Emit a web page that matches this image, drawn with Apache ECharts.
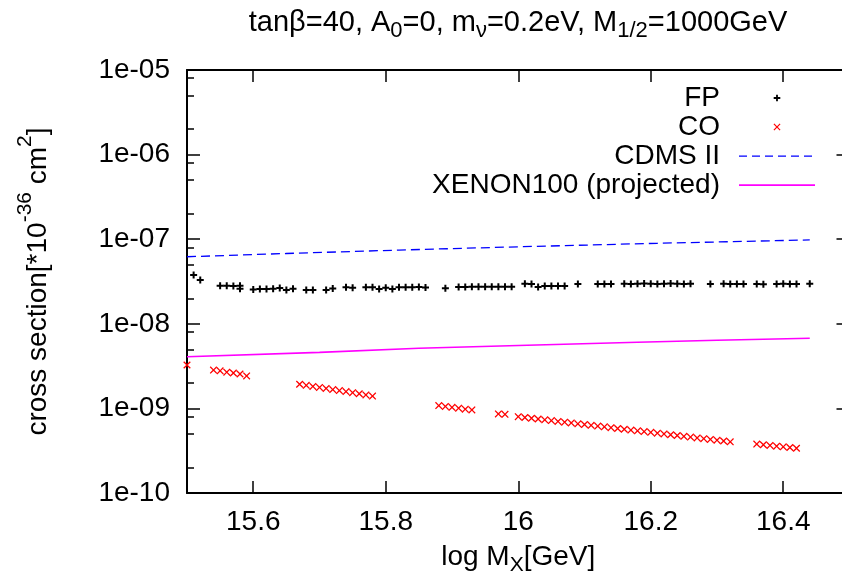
<!DOCTYPE html>
<html>
<head>
<meta charset="utf-8">
<script src="https://cdn.jsdelivr.net/npm/echarts@6/dist/echarts.min.js"></script>
<style>html,body{margin:0;padding:0;background:#fff;}#c{width:842px;height:580px;}</style>
</head>
<body>
<div id="c"></div>
<script>
// ---------- data ----------
const fpX = [15.51,15.52,15.55,15.56,15.57,15.58,15.58,15.60,15.61,15.62,15.63,15.64,15.65,15.66,15.68,15.69,15.71,15.72,15.74,15.75,15.77,15.78,15.79,15.80,15.81,15.82,15.83,15.84,15.85,15.86,15.89,15.91,15.92,15.93,15.94,15.95,15.96,15.97,15.98,15.99,16.01,16.02,16.03,16.04,16.05,16.06,16.07,16.09,16.12,16.13,16.14,16.16,16.17,16.18,16.19,16.20,16.21,16.22,16.23,16.24,16.25,16.26,16.29,16.31,16.32,16.33,16.34,16.36,16.37,16.39,16.40,16.41,16.42,16.44];
const fpY = [3.78e-8,3.30e-8,2.82e-8,2.82e-8,2.80e-8,2.82e-8,2.60e-8,2.55e-8,2.57e-8,2.57e-8,2.60e-8,2.65e-8,2.51e-8,2.60e-8,2.51e-8,2.51e-8,2.51e-8,2.62e-8,2.70e-8,2.66e-8,2.70e-8,2.70e-8,2.57e-8,2.66e-8,2.57e-8,2.70e-8,2.70e-8,2.70e-8,2.72e-8,2.68e-8,2.63e-8,2.72e-8,2.72e-8,2.74e-8,2.74e-8,2.74e-8,2.74e-8,2.74e-8,2.74e-8,2.74e-8,2.98e-8,2.95e-8,2.72e-8,2.80e-8,2.80e-8,2.80e-8,2.80e-8,2.95e-8,2.95e-8,2.95e-8,2.95e-8,2.98e-8,2.96e-8,2.98e-8,3.00e-8,2.98e-8,2.96e-8,2.98e-8,3.00e-8,2.98e-8,2.96e-8,2.98e-8,2.95e-8,2.98e-8,2.95e-8,2.95e-8,2.95e-8,2.95e-8,2.93e-8,2.95e-8,2.98e-8,2.95e-8,2.95e-8,2.98e-8];

const coX = [15.50,
  15.54,15.55,15.56,15.57,15.58,15.59,
  15.67,15.68,15.69,15.70,15.71,15.72,15.73,15.74,15.75,15.76,15.77,15.78,
  15.88,15.89,15.90,15.91,15.92,15.93,
  15.97,15.98,
  16.00,16.01,16.02,16.03,16.04,16.05,16.06,16.07,16.08,16.09,16.10,16.11,16.12,16.13,16.14,16.15,16.16,16.17,16.18,16.19,16.20,16.21,16.22,16.23,16.24,16.25,16.26,16.27,16.28,16.29,16.30,16.31,16.32,
  16.36,16.37,16.38,16.39,16.40,16.41,16.42];
const coY = [3.26e-9,
  2.84e-9,2.78e-9,2.68e-9,2.62e-9,2.55e-9,2.42e-9,
  1.93e-9,1.875e-9,1.82e-9,1.77e-9,1.72e-9,1.67e-9,1.625e-9,1.58e-9,1.535e-9,1.49e-9,1.445e-9,1.40e-9,
  1.08e-9,1.055e-9,1.03e-9,1.005e-9,0.98e-9,0.96e-9,
  8.6e-10,8.5e-10,
  7.98e-10,7.81e-10,7.65e-10,7.49e-10,7.33e-10,7.17e-10,7.02e-10,6.87e-10,6.73e-10,6.58e-10,6.45e-10,6.31e-10,6.18e-10,6.05e-10,5.92e-10,5.79e-10,5.67e-10,5.55e-10,5.43e-10,5.32e-10,5.21e-10,5.10e-10,4.99e-10,4.88e-10,4.78e-10,4.68e-10,4.58e-10,4.48e-10,4.39e-10,4.30e-10,4.21e-10,4.12e-10,4.03e-10,
  3.79e-10,3.72e-10,3.65e-10,3.58e-10,3.51e-10,3.45e-10,3.38e-10];

const cdmsX = [15.50,15.65,15.82,16.00,16.21,16.44];
const cdmsY = [6.2e-8,6.78e-8,7.44e-8,8.13e-8,8.95e-8,9.8e-8];

const xenonX = [15.50,15.70,15.85,16.00,16.18,16.30,16.44];
const xenonY = [4.08e-9,4.6e-9,5.13e-9,5.55e-9,6.04e-9,6.4e-9,6.75e-9];

const xTickValues = [15.6,15.8,16.0,16.2,16.4];
const xTickLabels = ['15.6','15.8','16','16.2','16.4'];
const yTickValues = [1e-10,1e-9,1e-8,1e-7,1e-6,1e-5];
const yTickLabels = ['1e-10','1e-09','1e-08','1e-07','1e-06','1e-05'];
const yMinorTicks = [2e-10,5e-10,8e-10,2e-9,5e-9,8e-9,2e-8,5e-8,8e-8,2e-7,5e-7,8e-7,2e-6,5e-6,8e-6];

const seriesNames = ['FP','CO','CDMS II','XENON100 (projected)'];
const titleText = 'tanβ=40, A{sub|0}=0, m{sub|ν}=0.2eV, M{sub|1/2}=1000GeV';
const xName = 'log M{sub|X}[GeV]';
const yName = 'cross section[*10{sup|-36} cm{sup|2}]';

// ---------- build ----------
const FONT = 'Liberation Sans';
const FS = 28;
const zip = (a, b) => a.map((v, i) => [v, b[i]]);
const PLUS = 'path://M0,2.5h7v2h-7zM2.5,0h2v7h-2z';
const CROSS = 'path://M0,1.2L1.2,0L5,3.8L8.8,0L10,1.2L6.2,5L10,8.8L8.8,10L5,6.2L1.2,10L0,8.8L3.8,5Z';
const PLUS_LEG = 'path://M0,0M14,14M3.7,6.1h6.6v1.8h-6.6zM6.1,3.7h1.8v6.6h-1.8z';
const CROSS_LEG = 'path://M0,0M20,20M5,6.2L6.2,5L10,8.8L13.8,5L15,6.2L11.2,10L15,13.8L13.8,15L10,11.2L6.2,15L5,13.8L8.8,10Z';
const DASH_LEG = 'path://M0,6.5h8v1.2h-8zM13,6.5h8v1.2h-8zM26,6.5h8v1.2h-8zM39,6.5h8v1.2h-8zM52,6.5h8v1.2h-8zM65,6.5h8v1.2h-8zM0,0M76,14';
const SOLID_LEG = 'path://M0,6.3h76v1.6h-76zM0,0M76,14';

function yLabel(v) {
  for (let i = 0; i < yTickValues.length; i++) {
    if (Math.abs(Math.log10(v / yTickValues[i])) < 0.01) return yTickLabels[i];
  }
  return '';
}
function xLabel(v) {
  for (let i = 0; i < xTickValues.length; i++) {
    if (Math.abs(v - xTickValues[i]) < 1e-6) return xTickLabels[i];
  }
  return '';
}

const lineS = () => ({color: '#000', width: 2});
const tickS = () => ({color: '#000', width: 1.5});
const richSub = (fs, pt) => ({sub: {fontFamily: FONT, fontSize: fs, lineHeight: 4, verticalAlign: 'top', padding: [pt, 0, 0, 0], color: '#000'}});
const richSup = () => ({sup: {fontFamily: FONT, fontSize: 21, lineHeight: 4, verticalAlign: 'bottom', padding: [0, 0, 16, 0], color: '#000'}});
const expMin = Math.log10(yTickValues[0]);
const expMax = Math.log10(yTickValues[yTickValues.length - 1]);
const minorExp = yMinorTicks.map(v => Math.log10(v));

const option = {
  animation: false,
  backgroundColor: '#fff',
  title: {
    text: titleText,
    left: 518, top: 8, textAlign: 'center', padding: 0,
    textStyle: {fontFamily: FONT, fontSize: 29, fontWeight: 'normal', color: '#000', lineHeight: 29, rich: richSub(22, 12)}
  },
  legend: {
    orient: 'vertical', right: 27, top: 84, align: 'right', padding: 0,
    itemWidth: 76, itemHeight: 14, itemGap: 1,
    textStyle: {fontFamily: FONT, fontSize: FS, color: '#000', lineHeight: FS, padding: [0, 14, 0, 0]},
    data: [
      {name: seriesNames[0], icon: PLUS_LEG},
      {name: seriesNames[1], icon: CROSS_LEG},
      {name: seriesNames[2], icon: DASH_LEG},
      {name: seriesNames[3], icon: SOLID_LEG}
    ]
  },
  grid: {left: 187, right: -7.5, top: 70, bottom: 87, outerBoundsMode: 'none'},
  xAxis: [
    {
      type: 'value', position: 'bottom', min: 15.5, max: 16.5,
      name: xName, nameLocation: 'middle', nameGap: 50, nameMoveOverlap: false,
      nameTextStyle: {fontFamily: FONT, fontSize: FS, color: '#000', lineHeight: FS, rich: richSub(21, 12)},
      axisLine: {show: true, lineStyle: lineS()},
      axisTick: {show: true, inside: true, length: 12, lineStyle: tickS(), customValues: xTickValues},
      axisLabel: {show: true, margin: 15, fontFamily: FONT, fontSize: FS, color: '#000', customValues: xTickValues, formatter: xLabel},
      splitLine: {show: false}
    },
    {
      type: 'value', position: 'top', min: 15.5, max: 16.5,
      axisLine: {show: true, lineStyle: lineS()},
      axisTick: {show: true, inside: true, length: 12, lineStyle: tickS(), customValues: xTickValues},
      axisLabel: {show: false},
      splitLine: {show: false}
    }
  ],
  yAxis: [
    {
      type: 'log', position: 'left', min: 1e-10, max: 1e-5,
      name: yName, nameLocation: 'middle', nameGap: 135, nameMoveOverlap: false,
      nameTextStyle: {fontFamily: FONT, fontSize: FS, color: '#000', lineHeight: FS, rich: richSup()},
      axisLine: {show: true, lineStyle: lineS()},
      axisTick: {show: true, inside: true, length: 13, lineStyle: tickS()},
      axisLabel: {show: true, margin: 17, fontFamily: FONT, fontSize: FS, color: '#000', formatter: yLabel},
      splitLine: {show: false}
    },
    {
      type: 'log', position: 'right', min: 1e-10, max: 1e-5,
      axisLine: {show: true, lineStyle: lineS()},
      axisTick: {show: true, inside: true, length: 13, lineStyle: tickS()},
      axisLabel: {show: false},
      splitLine: {show: false}
    },
    {
      type: 'value', position: 'left', min: expMin, max: expMax,
      axisLine: {show: false},
      axisTick: {show: true, inside: true, length: 7, lineStyle: tickS(), customValues: minorExp},
      axisLabel: {show: false},
      splitLine: {show: false}
    },
    {
      type: 'value', position: 'right', min: expMin, max: expMax,
      axisLine: {show: false},
      axisTick: {show: true, inside: true, length: 7, lineStyle: tickS(), customValues: minorExp},
      axisLabel: {show: false},
      splitLine: {show: false}
    }
  ],
  series: [
    {
      name: seriesNames[0], type: 'scatter', xAxisIndex: 0, yAxisIndex: 0,
      symbol: PLUS, symbolSize: 7, clip: false,
      itemStyle: {color: '#000', opacity: 1},
      data: zip(fpX, fpY)
    },
    {
      name: seriesNames[1], type: 'scatter', xAxisIndex: 0, yAxisIndex: 0,
      symbol: CROSS, symbolSize: 7.5, clip: false,
      itemStyle: {color: '#ff0000', opacity: 1},
      data: zip(coX, coY)
    },
    {
      name: seriesNames[2], type: 'line', xAxisIndex: 0, yAxisIndex: 0,
      symbol: 'none', showSymbol: false,
      lineStyle: {color: '#0000ff', width: 1.3, type: [9, 5]},
      itemStyle: {color: '#0000ff'},
      data: zip(cdmsX, cdmsY)
    },
    {
      name: seriesNames[3], type: 'line', xAxisIndex: 0, yAxisIndex: 0,
      symbol: 'none', showSymbol: false,
      lineStyle: {color: '#ff00ff', width: 1.6},
      itemStyle: {color: '#ff00ff'},
      data: zip(xenonX, xenonY)
    }
  ]
};

const chart = echarts.init(document.getElementById('c'), null, {renderer: 'canvas'});
chart.setOption(option);
</script>
</body>
</html>
